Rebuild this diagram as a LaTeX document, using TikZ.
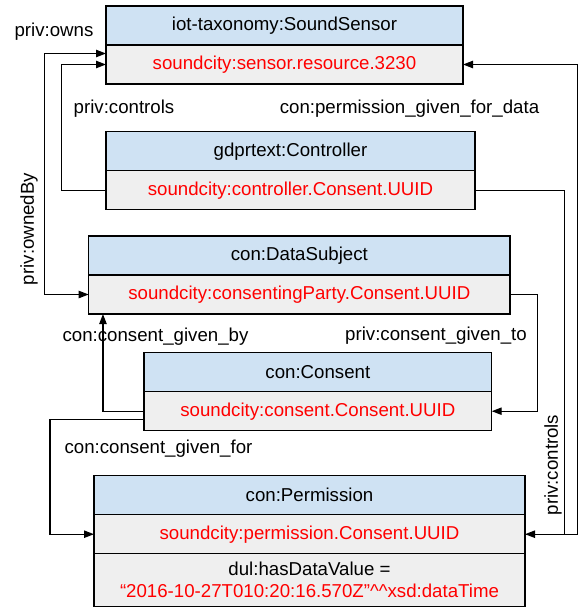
\documentclass[tikz,border=0pt]{standalone}
\usepackage{fontspec}
\setmainfont{Liberation Sans}
\usetikzlibrary{arrows.meta}
\definecolor{hdrblue}{RGB}{207,226,243}
\definecolor{rowgray}{RGB}{239,239,239}
\definecolor{valred}{RGB}{255,0,0}
\begin{document}
\begin{tikzpicture}[x=0.75pt,y=-0.75pt,
  font=\fontsize{14}{16.5}\selectfont,
  box/.style={draw=black,line width=1pt,inner sep=0pt,outer sep=0pt,minimum height=29.25pt,align=center},
  hdr/.style={box,fill=hdrblue,text=black},
  val/.style={box,fill=rowgray,text=valred},
  conn/.style={draw=black,line width=1pt,-{Triangle[length=7.5pt,width=5.5pt]}},
  lbl/.style={text=black,inner sep=0pt}]
\useasboundingbox (0,0) rectangle (582,608);
% SoundSensor
\node[hdr,anchor=north west,minimum width=267.75pt] (ssh) at (106,6) {iot-taxonomy:SoundSensor};
\node[val,anchor=north,minimum width=267.75pt] (ssv) at (ssh.south) {soundcity:sensor.resource.3230};
% Controller
\node[hdr,anchor=north west,minimum width=276.75pt] (cth) at (106,131.7) {gdprtext:Controller};
\node[val,anchor=north,minimum width=276.75pt] (ctv) at (cth.south) {soundcity:controller.Consent.UUID};
% DataSubject
\node[hdr,anchor=north west,minimum width=316pt] (dsh) at (88.7,236) {con:DataSubject};
\node[val,anchor=north,minimum width=316pt] (dsv) at (dsh.south) {soundcity:consentingParty.Consent.UUID};
% Consent
\node[hdr,anchor=north west,minimum width=260.8pt] (ch) at (144,352.7) {con:Consent};
\node[val,anchor=north,minimum width=260.8pt] (cv) at (ch.south) {soundcity:consent.Consent.UUID};
% Permission
\node[hdr,anchor=north west,minimum width=323.25pt] (ph) at (94,475.7) {con:Permission};
\node[val,anchor=north,minimum width=323.25pt] (pv) at (ph.south) {soundcity:permission.Consent.UUID};
\node[val,anchor=north,minimum width=323.25pt,minimum height=39.75pt,text=black] (pd) at (pv.south)
  {dul:hasDataValue =\\\textcolor{valred}{“2016-10-27T010:20:16.570Z”\textasciicircum\textasciicircum xsd:dataTime}};
% connectors
\draw[conn,{Triangle[length=7.5pt,width=5.5pt]}-{Triangle[length=7.5pt,width=5.5pt]}]
  ([yshift=8.25pt]ssv.west) -- ++(-61.7,0) |- (dsv.west);
\draw[conn] (ctv.west) -- ++(-44.3,0) |- (ssv.west);
\draw[conn] (pv.east) -- ++(52.7,0) |- (ssv.east);
\draw[conn] (ctv.east) -- ++(89.3,0) |- (pv.east);
\draw[conn] (dsv.east) -- ++(27.3,0) |- (cv.east);
\draw[conn] (cv.west) -| ([xshift=10.7pt]dsv.south west);
\draw[conn] ([yshift=-6.4pt]cv.west) -- ++(-94,0) |- (pv.west);
% labels
\node[lbl] (l1) at (54,32) {priv:owns};
\node[lbl,rotate=90] (l2) at (29,229) {priv:ownedBy};
\node[lbl] (l3) at (124,109) {priv:controls};
\node[lbl] (l4) at (409.5,109) {con:permission\_given\_for\_data};
\node[lbl] (l5) at (155.5,337) {con:consent\_given\_by};
\node[lbl] (l6) at (436,336) {priv:consent\_given\_to};
\node[lbl] (l7) at (158.5,449) {con:consent\_given\_for};
\node[lbl,rotate=90] (l8) at (553,465) {priv:controls};
\end{tikzpicture}
\end{document}
